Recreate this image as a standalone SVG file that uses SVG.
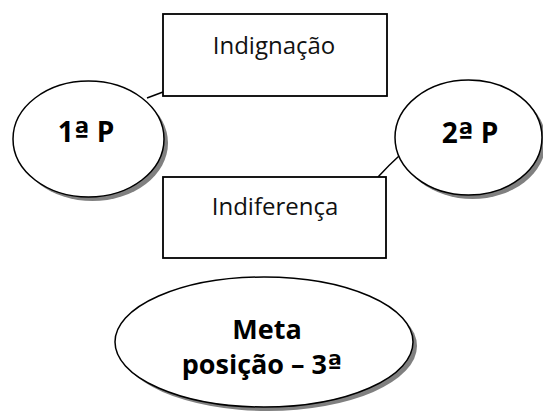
<svg xmlns="http://www.w3.org/2000/svg" width="543" height="414" viewBox="0 0 543 414">
<style>
.sh{fill:#808080;stroke:none}
.el{fill:#fff;stroke:#000;stroke-width:1.5}
.bx{fill:#fff;stroke:#000;stroke-width:1.8}
.t{font-family:"Open Sans","Liberation Sans",sans-serif;font-size:24px;fill:#111;text-anchor:middle}
.b{font-family:"Open Sans","Liberation Sans",sans-serif;font-size:28px;font-weight:bold;fill:#000;text-anchor:middle}
.o{font-family:"DejaVu Sans",sans-serif}
.cn{fill:none;stroke:#000;stroke-width:1.5}
</style>
<rect width="543" height="414" fill="#fff"/>
<g id="connectors">
<path class="cn" d="M147,98 L163,92"/>
<path class="cn" d="M378,177 Q389,165 399,156"/>
</g>
<g id="p1">
<ellipse class="sh" cx="92.5" cy="143" rx="75.5" ry="58"/>
<ellipse class="el" cx="88.5" cy="139" rx="75.5" ry="58"/>
<text class="b" x="86" y="142">1<tspan class="o">ª</tspan> P</text>
</g>
<g id="p2">
<ellipse class="sh" cx="472.5" cy="141.5" rx="73.5" ry="57.5"/>
<ellipse class="el" cx="468.5" cy="137.5" rx="73.5" ry="57.5"/>
<text class="b" x="470" y="143">2<tspan class="o">ª</tspan> P</text>
</g>
<g id="indignacao">
<rect class="bx" x="163" y="14" width="224" height="82"/>
<text class="t" x="274" y="54">Indignação</text>
</g>
<g id="indiferenca">
<rect class="bx" x="163" y="177" width="223" height="81"/>
<text class="t" x="275" y="215">Indiferença</text>
</g>
<g id="meta">
<ellipse class="sh" cx="268" cy="346" rx="149" ry="65"/>
<ellipse class="el" cx="264" cy="342" rx="149" ry="65"/>
<text class="b" x="267" y="339" style="font-size:27px">Meta</text>
<text class="b" x="262" y="374" style="font-size:27px">posição – 3<tspan class="o">ª</tspan></text>
</g>
</svg>
